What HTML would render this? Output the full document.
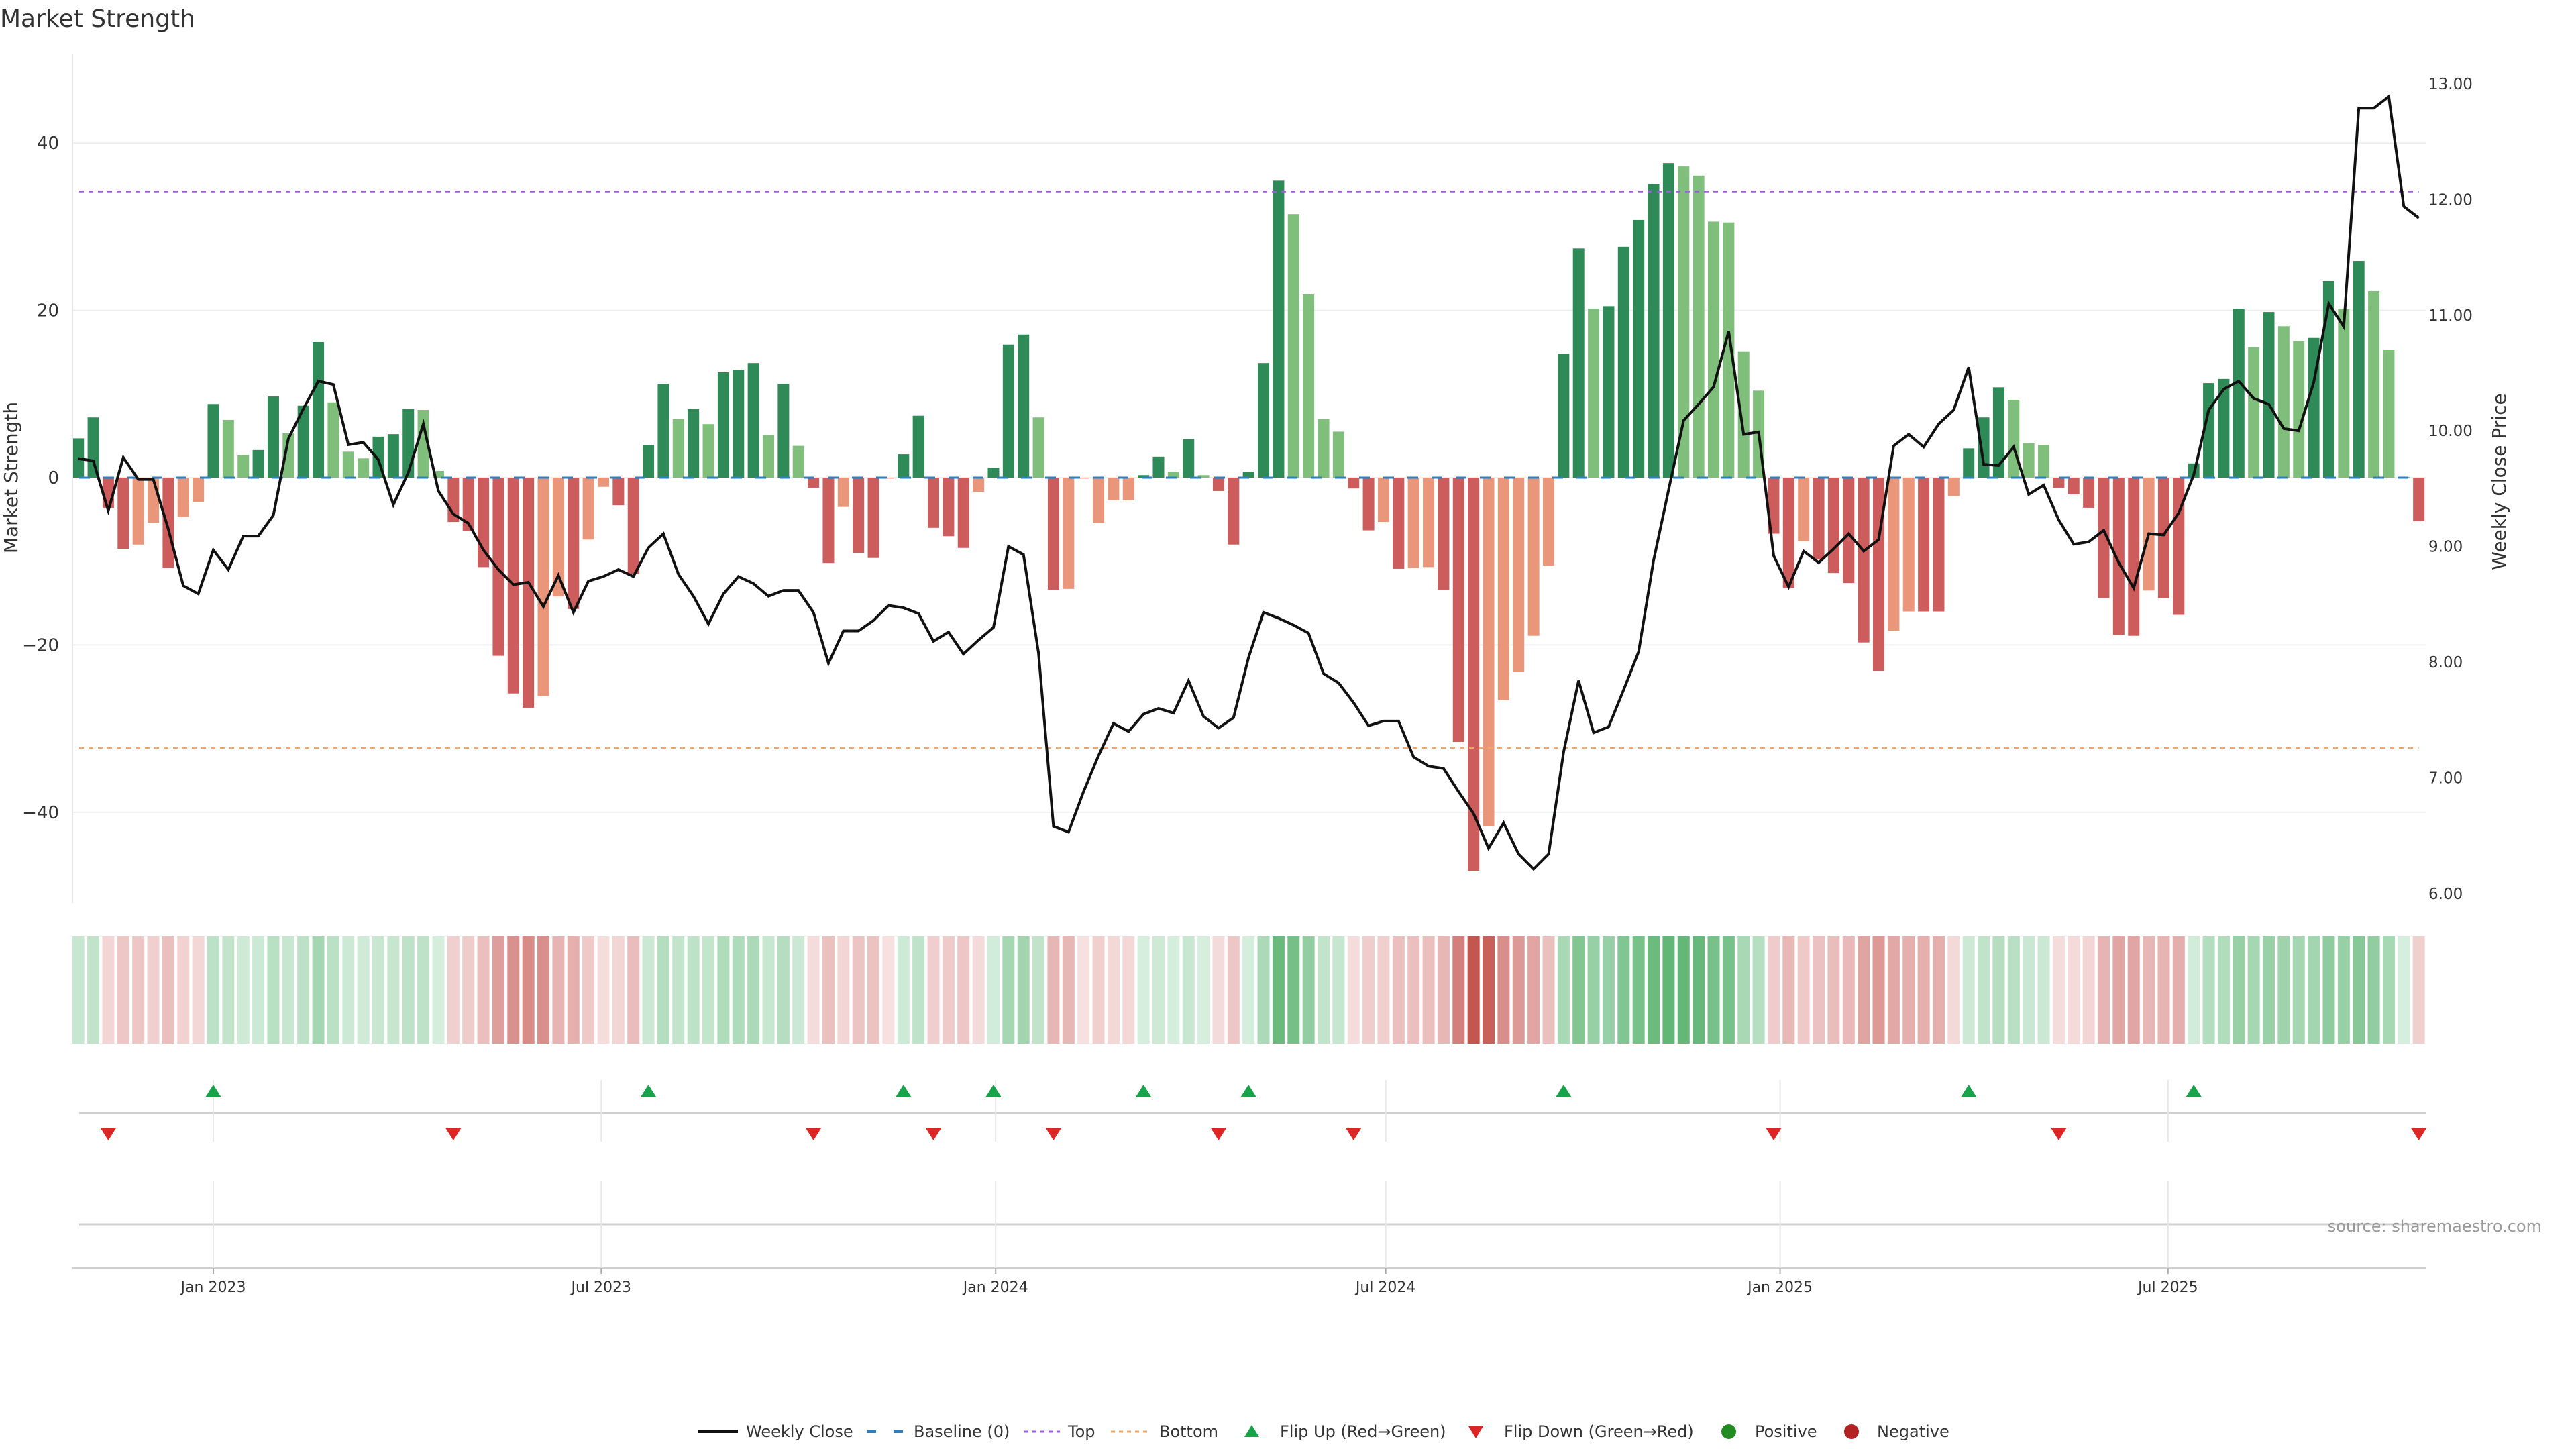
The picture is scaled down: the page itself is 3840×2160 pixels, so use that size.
<!DOCTYPE html>
<html><head><meta charset="utf-8"><title>Market Strength</title>
<style>
html,body{margin:0;padding:0;background:#fff;}
svg{display:block;font-family:"DejaVu Sans","Liberation Sans",sans-serif;}
</style></head>
<body>
<svg id="chart" width="3840" height="2160" viewBox="0 0 3840 2160" xmlns="http://www.w3.org/2000/svg">
<rect x="0" y="0" width="3840" height="2160" fill="#fff"/>
<text x="0" y="40" font-size="36" fill="#333">Market Strength</text>
<g id="grid"></g>
<g id="bars"></g>
<g id="refs"></g>
<g id="price"></g>
<g id="axes"></g>
<g id="heat"></g>
<g id="flips"></g>
<text x="3789" y="1836" font-size="24" fill="#999" text-anchor="end">source: sharemaestro.com</text>
<g id="legend"></g>
</svg>
<script>
const startDate = "2022-10-30";
const strength = [4.7,7.2,-3.6,-8.5,-8.0,-5.4,-10.8,-4.7,-2.9,8.8,6.9,2.7,3.3,9.7,5.3,8.6,16.2,9.0,3.1,2.3,4.9,5.2,8.2,8.1,0.8,-5.3,-6.4,-10.7,-21.3,-25.8,-27.5,-26.1,-14.2,-15.7,-7.4,-1.1,-3.3,-11.5,3.9,11.2,7.0,8.2,
6.4,12.6,12.9,13.7,5.1,11.2,3.8,-1.2,-10.2,-3.5,-9.0,-9.6,-0.1,2.8,7.4,-6.0,-7.0,-8.4,-1.7,1.2,15.9,17.1,7.2,-13.4,-13.3,-0.1,-5.4,-2.7,-2.7,0.3,2.5,0.7,4.6,0.3,-1.6,-8.0,0.7,13.7,35.5,31.5,
21.9,7.0,5.5,-1.3,-6.3,-5.3,-10.9,-10.8,-10.7,-13.4,-31.6,-47.0,-41.7,-26.6,-23.2,-18.9,-10.5,14.8,27.4,20.2,20.5,27.6,30.8,35.1,37.6,37.2,36.1,30.6,30.5,15.1,10.4,-6.7,-13.2,-7.6,-9.8,-11.4,-12.6,-19.7,-23.1,-18.3,
-16.0,-16.0,-16.0,-2.2,3.5,7.2,10.8,9.3,4.1,3.9,-1.2,-2.0,-3.6,-14.4,-18.8,-18.9,-13.5,-14.4,-16.4,1.7,11.3,11.8,20.2,15.6,19.8,18.1,16.3,16.7,23.5,20.2,25.9,22.3,15.3,0.1,-5.2];
const strong = [1,1,1,1,0,0,1,0,0,1,0,0,1,1,0,1,1,0,0,0,1,1,1,0,0,1,1,1,1,1,1,0,0,1,0,0,1,1,1,1,0,1,
0,1,1,1,0,1,0,1,1,0,1,1,1,1,1,1,1,1,0,1,1,1,0,1,0,1,0,0,0,1,1,0,1,0,1,1,1,1,1,0,
0,0,0,1,1,0,1,0,0,1,1,1,0,0,0,0,0,1,1,0,1,1,1,1,1,0,0,0,0,0,0,1,1,0,1,1,1,1,1,0,
0,1,1,0,1,1,1,0,0,0,1,1,1,1,1,1,0,1,1,1,1,1,1,0,1,0,0,1,1,0,1,0,0,0,1];
const closes = [9.76,9.74,9.31,9.77,9.58,9.58,9.15,8.66,8.59,8.97,8.80,9.09,9.09,9.27,9.93,10.19,10.43,10.40,9.88,9.90,9.75,9.36,9.64,10.06,9.48,9.28,9.20,8.97,8.80,8.67,8.69,8.48,8.75,8.43,8.70,8.74,8.80,8.74,8.99,9.11,8.76,8.57,
8.33,8.59,8.74,8.68,8.57,8.62,8.62,8.43,7.99,8.27,8.27,8.36,8.49,8.47,8.42,8.18,8.26,8.07,8.19,8.30,9.00,8.93,8.08,6.58,6.53,6.88,7.19,7.47,7.40,7.55,7.60,7.56,7.84,7.53,7.43,7.52,8.04,8.43,8.38,8.32,
8.25,7.90,7.82,7.65,7.45,7.49,7.49,7.18,7.10,7.08,6.88,6.69,6.39,6.61,6.34,6.21,6.34,7.22,7.84,7.39,7.44,7.76,8.09,8.88,9.49,10.09,10.23,10.38,10.86,9.97,9.99,8.92,8.65,8.96,8.86,8.98,9.11,8.96,9.06,9.87,9.97,
9.86,10.06,10.18,10.55,9.71,9.70,9.86,9.45,9.53,9.23,9.02,9.04,9.14,8.86,8.64,9.11,9.10,9.29,9.62,10.18,10.36,10.43,10.28,10.23,10.02,10.00,10.42,11.10,10.90,12.79,12.79,12.89,11.94,11.84];
const leftTicks = [40,20,0,-20,-40];
const rightTicks = [13,12,11,10,9,8,7,6];
const dateTicks = ["2023-01-01","2023-07-01","2024-01-01","2024-07-01","2025-01-01","2025-07-01"];
const dateTickLabels = ["Jan 2023","Jul 2023","Jan 2024","Jul 2024","Jan 2025","Jul 2025"];
const topLevel = 34.2;
const bottomLevel = -32.3;

const NS="http://www.w3.org/2000/svg";
function mk(parent,tag,attrs){const e=document.createElementNS(NS,tag);for(const k in attrs)e.setAttribute(k,attrs[k]);parent.appendChild(e);return e;}
const DAY=86400000, REF=Date.UTC(2023,0,1), PXD=3.195;
function xDate(s){const p=s.split('-');return 318+(Date.UTC(+p[0],+p[1]-1,+p[2])-REF)/DAY*PXD;}
const t0=xDate(startDate);
function xi(i){return t0+i*7*PXD;}
function yS(v){return 712-v*12.47;}
function yP(p){return 125+(13-p)*172.4;}
const X0=108,X1=3616;

const grid=document.getElementById('grid');
leftTicks.forEach(v=>{const l=mk(grid,'line',{x1:X0,x2:X1,y1:yS(v),y2:yS(v),stroke:'#eceff1','stroke-width':2});

});

const axes=document.getElementById('axes');
mk(axes,'line',{x1:X0,x2:X0,y1:80,y2:1346,stroke:'#e6e6e6','stroke-width':2});
leftTicks.forEach(v=>{const t=mk(axes,'text',{x:88,y:yS(v)+9,'font-size':26,fill:'#333','text-anchor':'end'});t.textContent=String(v).replace('-','\u2212');

});
rightTicks.forEach(v=>{const t=mk(axes,'text',{x:3620,y:yP(v)+8,'font-size':23,fill:'#333'});t.textContent=v.toFixed(2);

});
let lt=mk(axes,'text',{x:0,y:0,'font-size':28,fill:'#333','text-anchor':'middle',transform:'translate(26,712) rotate(-90)'});lt.textContent='Market Strength';


let rt=mk(axes,'text',{x:0,y:0,'font-size':28,fill:'#333','text-anchor':'middle',transform:'translate(3735,718) rotate(-90)'});rt.textContent='Weekly Close Price';



// bars
const bars=document.getElementById('bars');
strength.forEach((v,i)=>{const pos=v>=0;const c=pos?(strong[i]?'#2e8b57':'#7fbf7b'):(strong[i]?'#cd5c5c':'#e9967a');
const y=Math.min(yS(v),yS(0));const h=Math.abs(yS(v)-yS(0));
const r=mk(bars,'rect',{x:xi(i)-8.5,y:y,width:17,height:Math.max(h,0.5),fill:c});

});

// reference lines
const refs=document.getElementById('refs');
const xEnd=xi(strength.length-1);
let bl=mk(refs,'line',{x1:118,x2:xEnd,y1:yS(0),y2:yS(0),stroke:'#2f7fc0','stroke-width':3,'stroke-dasharray':'16 20'});


let tl=mk(refs,'line',{x1:118,x2:xEnd,y1:yS(topLevel),y2:yS(topLevel),stroke:'#a35ae6','stroke-width':2.5,'stroke-dasharray':'7 7'});


let bt=mk(refs,'line',{x1:118,x2:xEnd,y1:yS(bottomLevel),y2:yS(bottomLevel),stroke:'#f0a868','stroke-width':2.5,'stroke-dasharray':'7 7'});



// price
const price=document.getElementById('price');
let pl=mk(price,'polyline',{points:closes.map((p,i)=>xi(i).toFixed(1)+','+yP(p).toFixed(1)).join(' '),fill:'none',stroke:'#111','stroke-width':4,'stroke-linejoin':'miter'});



// heatmap
function mix(a,b,t){return 'rgb('+a.map((c,k)=>Math.round(c+(b[k]-c)*t)).join(',')+')';}
const heat=document.getElementById('heat');
strength.forEach((v,i)=>{const t=Math.min(Math.abs(v)/45,1);
const c=v>=0?mix([214,238,222],[76,172,98],t):mix([246,224,224],[196,86,80],t);
const r=mk(heat,'rect',{x:xi(i)-9,y:1396,width:18,height:160,fill:c});

});

// lower panel
mk(axes,'line',{x1:118,x2:X1,y1:1659,y2:1659,stroke:'#d0d0d0','stroke-width':3});
mk(axes,'line',{x1:118,x2:X1,y1:1825,y2:1825,stroke:'#d0d0d0','stroke-width':3});
mk(axes,'line',{x1:108,x2:X1,y1:1890,y2:1890,stroke:'#d0d0d0','stroke-width':3});
dateTicks.forEach((d,k)=>{const x=xDate(d);
mk(axes,'line',{x1:x,x2:x,y1:1610,y2:1702,stroke:'#e8e8e8','stroke-width':2});
mk(axes,'line',{x1:x,x2:x,y1:1760,y2:1890,stroke:'#e8e8e8','stroke-width':2});
mk(axes,'line',{x1:x,x2:x,y1:1890,y2:1899,stroke:'#aaa','stroke-width':2});
const t=mk(axes,'text',{x:x,y:1926,'font-size':22,fill:'#333','text-anchor':'middle'});t.textContent=dateTickLabels[k];

});

// flips
const flips=document.getElementById('flips');
for(let i=1;i<strength.length;i++){const a=strength[i-1],b=strength[i];const x=xi(i);
if(a<0&&b>0){const p=mk(flips,'polygon',{points:`${x-12},1636 ${x+12},1636 ${x},1617`,fill:'#16a34a'});

}
if(a>0&&b<0){const p=mk(flips,'polygon',{points:`${x-12},1681 ${x+12},1681 ${x},1700`,fill:'#dc2626'});

}}

// legend
const lg=document.getElementById('legend');const LY=2134;
function ltext(x,s,name){const t=mk(lg,'text',{x:x,y:LY+8,'font-size':24,fill:'#333'});t.textContent=s;

}
mk(lg,'line',{x1:1040,x2:1100,y1:LY,y2:LY,stroke:'#111','stroke-width':4});ltext(1112,'Weekly Close','legend-weekly-close');
mk(lg,'line',{x1:1292,x2:1346,y1:LY,y2:LY,stroke:'#2f7fc0','stroke-width':4,'stroke-dasharray':'14 26'});ltext(1362,'Baseline (0)','legend-baseline');
mk(lg,'line',{x1:1527,x2:1580,y1:LY,y2:LY,stroke:'#a35ae6','stroke-width':3,'stroke-dasharray':'6 6'});ltext(1592,'Top','legend-top');
mk(lg,'line',{x1:1656,x2:1710,y1:LY,y2:LY,stroke:'#f0a868','stroke-width':3,'stroke-dasharray':'6 6'});ltext(1728,'Bottom','legend-bottom');
mk(lg,'polygon',{points:'1855,2142 1877,2142 1866,2124',fill:'#16a34a'});ltext(1908,'Flip Up (Red\u2192Green)','legend-flip-up');
mk(lg,'polygon',{points:'2189,2126 2211,2126 2200,2144',fill:'#dc2626'});ltext(2242,'Flip Down (Green\u2192Red)','legend-flip-down');
mk(lg,'circle',{cx:2577,cy:LY,r:11,fill:'#228b22'});ltext(2616,'Positive','legend-positive');
mk(lg,'circle',{cx:2760,cy:LY,r:11,fill:'#b22222'});ltext(2798,'Negative','legend-negative');
</script>
</body></html>
